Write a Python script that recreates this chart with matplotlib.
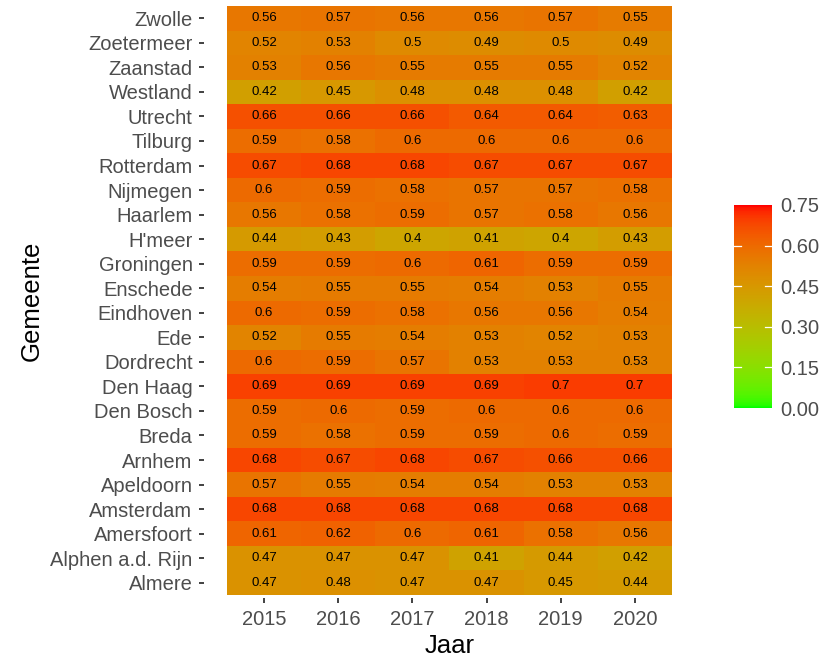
import numpy as np
import matplotlib
matplotlib.use("Agg")
import matplotlib.pyplot as plt
from matplotlib.colors import ListedColormap, Normalize

plt.rcParams['font.family'] = ['Liberation Sans', 'DejaVu Sans']

# Data (rows bottom -> top, alphabetical like ggplot)
gemeenten = ["Almere", "Alphen a.d. Rijn", "Amersfoort", "Amsterdam", "Apeldoorn",
             "Arnhem", "Breda", "Den Bosch", "Den Haag", "Dordrecht", "Ede",
             "Eindhoven", "Enschede", "Groningen", "H'meer", "Haarlem", "Nijmegen",
             "Rotterdam", "Tilburg", "Utrecht", "Westland", "Zaanstad",
             "Zoetermeer", "Zwolle"]
jaren = ["2015", "2016", "2017", "2018", "2019", "2020"]

v2015 = [0.47, 0.47, 0.61, 0.68, 0.57, 0.68, 0.59, 0.59, 0.69, 0.6, 0.52, 0.6,
         0.54, 0.59, 0.44, 0.56, 0.6, 0.67, 0.59, 0.66, 0.42, 0.53, 0.52, 0.56]
v2016 = [0.48, 0.47, 0.62, 0.68, 0.55, 0.67, 0.58, 0.6, 0.69, 0.59, 0.55, 0.59,
         0.55, 0.59, 0.43, 0.58, 0.59, 0.68, 0.58, 0.66, 0.45, 0.56, 0.53, 0.57]
v2017 = [0.47, 0.47, 0.6, 0.68, 0.54, 0.68, 0.59, 0.59, 0.69, 0.57, 0.54, 0.58,
         0.55, 0.6, 0.4, 0.59, 0.58, 0.68, 0.6, 0.66, 0.48, 0.55, 0.5, 0.56]
v2018 = [0.47, 0.41, 0.61, 0.68, 0.54, 0.67, 0.59, 0.6, 0.69, 0.53, 0.53, 0.56,
         0.54, 0.61, 0.41, 0.57, 0.57, 0.67, 0.6, 0.64, 0.48, 0.55, 0.49, 0.56]
v2019 = [0.45, 0.44, 0.58, 0.68, 0.53, 0.66, 0.6, 0.6, 0.7, 0.53, 0.52, 0.56,
         0.53, 0.59, 0.4, 0.58, 0.57, 0.67, 0.6, 0.64, 0.48, 0.55, 0.5, 0.57]
v2020 = [0.44, 0.42, 0.56, 0.68, 0.53, 0.66, 0.59, 0.6, 0.7, 0.53, 0.53, 0.54,
         0.55, 0.59, 0.43, 0.56, 0.58, 0.67, 0.6, 0.63, 0.42, 0.52, 0.49, 0.55]

values = np.column_stack([v2015, v2016, v2017, v2018, v2019, v2020])

cbar_ticks = [0, 0.15, 0.30, 0.45, 0.60, 0.75]

# green -> red gradient interpolated in CIELAB (like scale_fill_gradient)
WHITE = np.array([0.95047, 1.0, 1.08883])
M = np.array([[0.4124, 0.3576, 0.1805],
              [0.2126, 0.7152, 0.0722],
              [0.0193, 0.1192, 0.9505]])


def rgb_to_lab(rgb):
    c = np.where(rgb > 0.04045, ((rgb + 0.055) / 1.055) ** 2.4, rgb / 12.92)
    t = (M @ c) / WHITE
    f = np.where(t > 0.008856, np.cbrt(t), 7.787 * t + 16 / 116)
    return np.array([116 * f[1] - 16, 500 * (f[0] - f[1]), 200 * (f[1] - f[2])])


def lab_to_rgb(lab):
    fy = (lab[0] + 16) / 116
    f = np.array([fy + lab[1] / 500, fy, fy - lab[2] / 200])
    t = np.where(f ** 3 > 0.008856, f ** 3, (f - 16 / 116) / 7.787) * WHITE
    c = np.linalg.solve(M, t)
    c = np.clip(c, 0, 1)
    s = np.where(c > 0.0031308, 1.055 * c ** (1 / 2.4) - 0.055, 12.92 * c)
    return np.clip(s, 0, 1)


low = rgb_to_lab(np.array([0.0, 1.0, 0.0]))
high = rgb_to_lab(np.array([1.0, 0.0, 0.0]))
cols = [lab_to_rgb(low + (high - low) * t) for t in np.linspace(0, 1, 256)]
cmap = ListedColormap(cols)
norm = Normalize(vmin=0, vmax=0.75)

fig = plt.figure(figsize=(8.31, 6.59), dpi=100)
ax = fig.add_axes([227 / 831, 1 - 595 / 659, 445 / 831, 589 / 659])

x_edges = np.arange(len(jaren) + 1) - 0.5
y_edges = np.arange(len(gemeenten) + 1) - 0.5
mesh = ax.pcolormesh(x_edges, y_edges, values, cmap=cmap, norm=norm,
                     edgecolors='none', antialiased=False)

for i in range(len(gemeenten)):
    for j in range(len(jaren)):
        ax.text(j, i, f"{values[i, j]:g}", ha='center', va='center',
                fontsize=9.5, color='black')

ax.set_xlim(-0.5, len(jaren) - 0.5)
ax.set_ylim(-0.5, len(gemeenten) - 0.5)
ax.set_xticks(range(len(jaren)))
ax.set_xticklabels(jaren)
ax.set_yticks(range(len(gemeenten)))
ax.set_yticklabels(gemeenten)

# offsets in points (1px = 0.72pt at 100 dpi)
for s in ax.spines.values():
    s.set_visible(False)
ax.spines['left'].set_position(('outward', 16.5))
ax.spines['bottom'].set_position(('outward', 2.2))

ax.tick_params(axis='both', length=3.8, width=1.3, color='#333333',
               labelsize=14.5, labelcolor='#4D4D4D')
ax.tick_params(axis='y', pad=4.5)
ax.tick_params(axis='x', pad=4.5)

ax.set_xlabel("Jaar", fontsize=18.5, color='black')
ax.set_ylabel("Gemeente", fontsize=18.5, color='black')
ax.xaxis.set_label_coords(0.5, -0.087)
ax.xaxis.label.set_va('center')
ax.yaxis.set_label_coords(-0.438, 0.5)
ax.yaxis.label.set_va('center')

# colour bar
cax = fig.add_axes([734 / 831, 1 - 408 / 659, 38 / 831, 203 / 659])
cb = fig.colorbar(mesh, cax=cax)
cb.outline.set_visible(False)
cb.set_ticks(cbar_ticks, labels=[f"{t:.2f}" for t in cbar_ticks])
cb.ax.tick_params(length=0, right=True, left=False,
                  labelright=True, labelleft=False,
                  labelsize=14.5, labelcolor='#4D4D4D', pad=6)
# white tick marks inside the bar on both sides (ggplot style)
for t in cbar_ticks[1:-1]:
    cb.ax.axhline(t, 0, 0.19, color='white', lw=0.9, zorder=5)
    cb.ax.axhline(t, 0.81, 1, color='white', lw=0.9, zorder=5)

fig.savefig("out.png", dpi=100)
